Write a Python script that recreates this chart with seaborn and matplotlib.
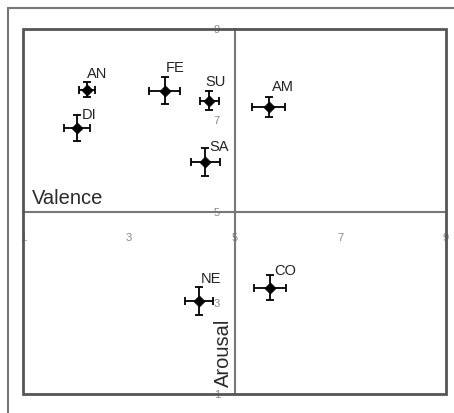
import matplotlib
matplotlib.use("Agg")
import matplotlib.pyplot as plt
import seaborn as sns
import pandas as pd
from matplotlib.patches import Rectangle
from matplotlib.lines import Line2D

# ---- data ----
emotions = ["AN", "FE", "SU", "AM", "DI", "SA", "NE", "CO"]
valence = [2.21, 3.68, 4.52, 5.65, 2.02, 4.45, 4.33, 5.67]
arousal = [7.67, 7.65, 7.43, 7.29, 6.83, 6.09, 3.04, 3.33]
valence_err = [0.15, 0.29, 0.18, 0.31, 0.25, 0.27, 0.27, 0.30]
arousal_err = [0.17, 0.29, 0.21, 0.21, 0.28, 0.31, 0.30, 0.27]
tick_values = [1, 2, 3, 4, 5, 6, 7, 8, 9]
tick_labels = ["1", "", "3", "", "5", "", "7", "", "9"]

# label offsets (pixels) for annotations
label_offsets = {"AN": (0, 12), "FE": (1, 19), "SU": (-4, 15), "AM": (3, 16),
                 "DI": (5, 9), "SA": (4, 11), "NE": (2, 18), "CO": (4, 13)}

df = pd.DataFrame({"emotion": emotions, "valence": valence, "arousal": arousal,
                   "verr": valence_err, "aerr": arousal_err})

sns.set_style("white")
plt.rcParams["font.family"] = ["Liberation Sans", "DejaVu Sans"]

W, H = 454, 413
fig = plt.figure(figsize=(W / 100, H / 100), dpi=100)
left, right, top, bottom = 23, 446, 29, 394
ax = fig.add_axes([left / W, (H - bottom) / H, (right - left) / W, (bottom - top) / H])

ax.errorbar(df["valence"], df["arousal"], xerr=df["verr"], yerr=df["aerr"],
            fmt="none", ecolor="black", elinewidth=1.3, capsize=3, capthick=1.3, zorder=3)
sns.scatterplot(data=df, x="valence", y="arousal", marker="D", s=32, color="black",
                edgecolor="black", linewidth=0.5, ax=ax, zorder=4, legend=False)

for _, r in df.iterrows():
    dx, dy = label_offsets[r["emotion"]]
    ax.annotate(r["emotion"], (r["valence"], r["arousal"]), xytext=(dx, dy),
                textcoords="offset pixels", ha="left", va="baseline",
                fontsize=10.5, color="#222222")

ax.set_xlim(1, 9)
ax.set_ylim(1, 9)
ax.set_xticks(tick_values)
ax.set_xticklabels(tick_labels)
ax.set_yticks(tick_values)
ax.set_yticklabels(tick_labels)

ax.spines["left"].set_position(("data", 5))
ax.spines["bottom"].set_position(("data", 5))
ax.spines["top"].set_visible(False)
ax.spines["right"].set_visible(False)
for s in ["left", "bottom"]:
    ax.spines[s].set_color("#777777")
    ax.spines[s].set_linewidth(1.5)

ax.tick_params(axis="x", direction="inout", length=3, width=0.8, color="#777777",
               pad=14, labelsize=8, labelcolor="#888888")
ax.tick_params(axis="y", direction="inout", length=3, width=0.8, color="#777777",
               pad=9, labelsize=8, labelcolor="#888888")
ax.set_xlabel("")
ax.set_ylabel("")

ax.add_patch(Rectangle((0, 0), 1, 1, transform=ax.transAxes, fill=False,
                       lw=2, ec="#555555", clip_on=False, zorder=5))

ax.text(0.02, 5.08, "Valence", transform=ax.get_yaxis_transform(), ha="left", va="bottom",
        fontsize=14.5, color="#2a2a2a")
ax.text(4.80, 0.02, "Arousal", transform=ax.get_xaxis_transform(), ha="center", va="bottom",
        rotation=90, fontsize=14.5, color="#2a2a2a")

# outer frame (top and left)
fig.add_artist(Line2D([8 / W, 1], [1 - 8 / H, 1 - 8 / H], color="#777777", lw=1.5))
fig.add_artist(Line2D([8 / W, 8 / W], [0, 1 - 8 / H], color="#777777", lw=1.5))

fig.savefig("out.png", dpi=100)
